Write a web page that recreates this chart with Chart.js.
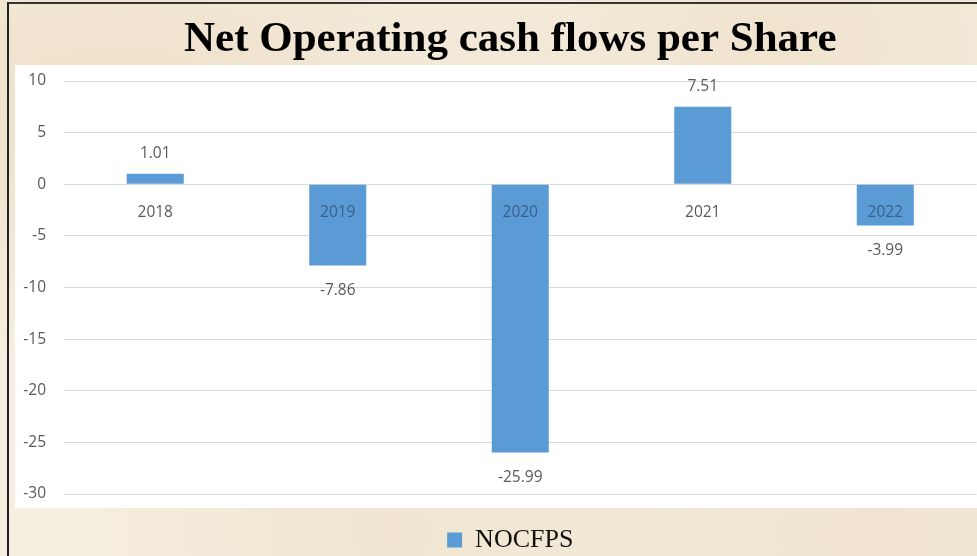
<!DOCTYPE html>
<html>
<head>
<meta charset="utf-8">
<script src="https://cdn.jsdelivr.net/npm/chart.js@4"></script>
<style>
  html, body { margin: 0; padding: 0; overflow: hidden; }
  body {
    width: 977px; height: 556px; position: relative;
    background-color: #f6eee0;
    background-image:
      radial-gradient(ellipse at 12% 20%, rgba(228,208,176,.5), transparent 40%),
      radial-gradient(ellipse at 80% 8%, rgba(232,214,184,.45), transparent 35%),
      radial-gradient(ellipse at 40% 95%, rgba(234,218,188,.45), transparent 40%),
      radial-gradient(ellipse at 90% 96%, rgba(230,212,182,.4), transparent 35%);
  }
  #frame { position: absolute; left: 7px; top: 2px; width: 1100px; height: 600px;
           border-left: 2px solid #222; border-top: 2px solid #333; }
  #plotbg { position: absolute; left: 15px; top: 65px; width: 970px; height: 443px; background: #fff; }
  #wrap { position: absolute; left: 0; top: 0; width: 1020px; height: 556px; }
</style>
</head>
<body>
<div id="frame"></div>
<div id="plotbg"></div>
<div id="wrap"><canvas id="cashflow"></canvas></div>
<script>
// NOCFPS by year
const years = ['2018', '2019', '2020', '2021', '2022'];
const nocfps = [1.01, -7.86, -25.99, 7.51, -3.99];
const yTicks = [10, 5, 0, -5, -10, -15, -20, -25, -30];

const barBlue = '#5b9bd5';
const tickFont = { family: 'Open Sans', size: 15.5 };

// value labels over / under each bar
const valueLabels = {
  id: 'valueLabels',
  afterDatasetsDraw(chart) {
    const ctx = chart.ctx;
    const meta = chart.getDatasetMeta(0);
    ctx.save();
    ctx.font = '15.5px "Open Sans"';
    ctx.fillStyle = '#595959';
    ctx.textAlign = 'center';
    ctx.textBaseline = 'middle';
    meta.data.forEach((bar, i) => {
      const v = nocfps[i];
      const y = v >= 0 ? bar.y - 20 : bar.y + 25;
      ctx.fillText(v.toFixed(2), bar.x, y);
    });
    ctx.restore();
  }
};

// title and legend sit a bit right of the plot centre
const shiftHeader = {
  id: 'shiftHeader',
  afterLayout(chart) {
    [chart.titleBlock, chart.legend].forEach(b => {
      if (b) { b.left += 18; b.right += 18; }
    });
  }
};

new Chart(document.querySelector('#cashflow'), {
  type: 'bar',
  data: {
    labels: years,
    datasets: [{
      label: 'NOCFPS',
      data: nocfps,
      backgroundColor: barBlue,
      categoryPercentage: 0.5,
      barPercentage: 0.625
    }]
  },
  options: {
    responsive: true,
    maintainAspectRatio: false,
    animation: false,
    layout: { padding: { left: 8, right: 43.5, top: 6, bottom: -7 } },
    plugins: {
      title: {
        display: true,
        text: 'Net Operating cash flows per Share',
        color: '#000',
        font: { family: 'Liberation Serif', size: 43, weight: 'bold' },
        padding: { top: 8, bottom: 15.4 }
      },
      legend: {
        position: 'bottom',
        title: { display: true, text: '', font: { size: 12, lineHeight: 1 }, padding: { top: 19, bottom: 0 } },
        labels: {
          color: '#111',
          font: { family: 'Liberation Serif', size: 26, lineHeight: 1 },
          boxWidth: 15,
          boxHeight: 15,
          padding: 2
        }
      },
      tooltip: { enabled: false }
    },
    scales: {
      x: {
        position: { y: 0 },
        grid: { display: false },
        border: { display: false },
        ticks: {
          z: 1, // year labels stay readable on top of the bars
          font: tickFont,
          padding: 11,
          color: ctx => nocfps[ctx.index] < -3 ? '#3a5e8c' : '#595959'
        }
      },
      y: {
        min: -30,
        max: 10,
        afterBuildTicks: s => { s.ticks = yTicks.map(v => ({ value: v })); },
        afterFit: s => { s.width = 56; },
        grid: { color: '#d9d9d9', drawTicks: false },
        border: { display: false },
        ticks: { font: tickFont, color: '#595959', padding: 18 }
      }
    }
  },
  plugins: [valueLabels, shiftHeader]
});
</script>
</body>
</html>
